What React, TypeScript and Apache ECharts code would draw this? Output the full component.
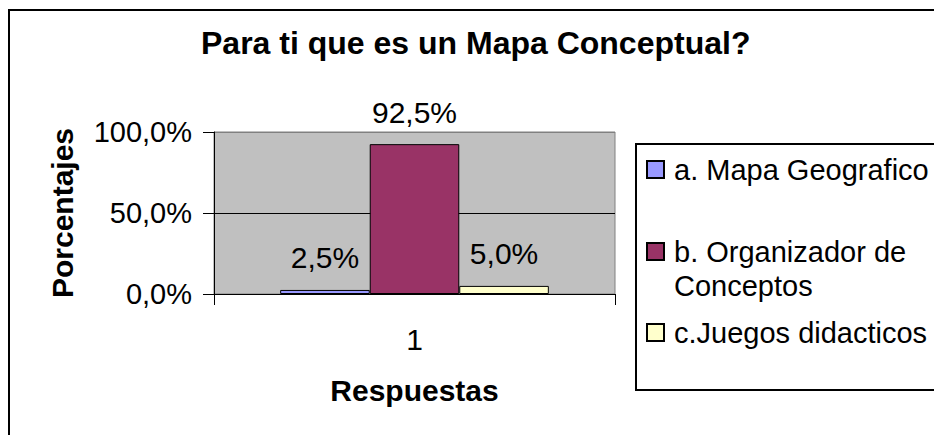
import React, { useEffect, useRef } from "react";
import * as echarts from "echarts";

const titleText = "Para ti que es un Mapa Conceptual?";
const categories = ["1"];
const seriesNames = ["a. Mapa Geografico", "b. Organizador de Conceptos", "c.Juegos didacticos"];
const seriesA = [2.5];
const seriesB = [92.5];
const seriesC = [5.0];
const seriesColors = ["#9999FF", "#993366", "#FFFFCC"];
const yAxisName = "Porcentajes";
const xAxisName = "Respuestas";

const FONT = "'Liberation Sans', Arial, sans-serif";
const fmt = (v: number) => v.toFixed(1).replace(".", ",") + "%";

export default function App() {
  const ref = useRef<HTMLDivElement>(null);
  useEffect(() => {
    if (!ref.current) return;
    const chart = echarts.init(ref.current, null, { renderer: "svg" });
    const values = [seriesA, seriesB, seriesC];
    const legendTops = [152.5, 200.5, 315.5];
    chart.setOption({
      animation: false,
      backgroundColor: "#ffffff",
      title: {
        text: titleText,
        left: 201,
        top: 27,
        padding: 0,
        textStyle: {
          fontFamily: FONT,
          fontWeight: "bold",
          fontSize: 32,
          color: "#000",
        },
      },
      grid: {
        left: 214,
        right: 319,
        top: 132,
        bottom: 141,
        show: true,
        backgroundColor: "#C0C0C0",
        borderColor: "#808080",
        borderWidth: 1,
      },
      legend: seriesNames.map((name, i) => ({
        data: [name],
        orient: "vertical",
        left: 646,
        top: legendTops[i],
        padding: 0,
        itemWidth: 17,
        itemHeight: 17,
        icon: "rect",
        selectedMode: false,
        formatter: (n: string) => (n.indexOf(" de ") >= 0 ? "\n" + n.replace(" de ", " de\n") : n),
        textStyle: {
          fontFamily: FONT,
          fontSize: 29,
          lineHeight: 34,
          color: "#000",
          padding: [0, 0, 0, 5],
        },
      })),
      xAxis: {
        type: "category",
        data: categories,
        name: xAxisName,
        nameLocation: "middle",
        nameGap: 81,
        nameTextStyle: { fontFamily: FONT, fontWeight: "bold", fontSize: 30, color: "#000" },
        axisLine: { show: true, lineStyle: { color: "#000", width: 1 } },
        axisTick: { show: true, alignWithLabel: false, length: 11, lineStyle: { color: "#000" } },
        axisLabel: { margin: 30, fontFamily: FONT, fontSize: 30, color: "#000" },
      },
      yAxis: {
        type: "value",
        min: 0,
        max: 100,
        interval: 50,
        name: yAxisName,
        nameLocation: "middle",
        nameGap: 137,
        nameTextStyle: { fontFamily: FONT, fontWeight: "bold", fontSize: 30, color: "#000" },
        axisLine: { show: true, lineStyle: { color: "#000", width: 1 } },
        axisTick: { show: true, length: 11, lineStyle: { color: "#000" } },
        axisLabel: { margin: 22, fontFamily: FONT, fontSize: 29, color: "#000", formatter: fmt },
        splitLine: { show: true, lineStyle: { color: ["#000", "#000", "#808080"], width: 1 } },
      },
      series: seriesNames.map((name, i) => ({
        name,
        type: "bar",
        data: values[i],
        barGap: "0%",
        barCategoryGap: "33%",
        itemStyle: { color: seriesColors[i], borderColor: "#000", borderWidth: 1 },
        label: {
          show: true,
          position: "top",
          distance: 17,
          fontFamily: FONT,
          fontSize: 30,
          color: "#000",
          formatter: (p: any) => fmt(p.value),
        },
      })),
      graphic: [
        {
          type: "rect",
          shape: { x: 9, y: 10, width: 960, height: 460 },
          style: { fill: "none", stroke: "#000", lineWidth: 2 },
          silent: true,
          z: 100,
        },
        {
          type: "rect",
          shape: { x: 636, y: 144, width: 400, height: 246 },
          style: { fill: "none", stroke: "#000", lineWidth: 2 },
          silent: true,
          z: 100,
        },
      ],
    });
    return () => chart.dispose();
  }, []);
  return (
    <div
      ref={ref}
      style={{ position: "fixed", left: 0, top: 0, width: 934, height: 435 }}
    />
  );
}
